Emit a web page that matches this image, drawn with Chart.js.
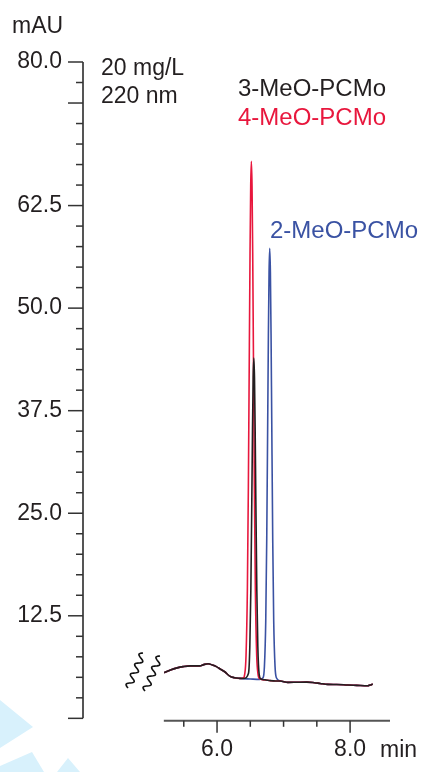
<!DOCTYPE html>
<html>
<head>
<meta charset="utf-8">
<script src="https://cdn.jsdelivr.net/npm/chart.js@4/dist/chart.umd.min.js"></script>
<style>
  html, body { margin: 0; padding: 0; background: #fff; }
  #wrap { width: 425px; height: 772px; }
</style>
</head>
<body>
<div id="wrap"><canvas id="canvas"></canvas></div>
<script>
// shared baseline before the peaks (min, mAU)
const baseTime = [5.205, 5.30, 5.40, 5.49, 5.60, 5.74, 5.80, 5.865, 5.93, 5.99, 6.05, 6.115, 6.19, 6.26, 6.34];
const baseMau  = [5.56, 5.90, 6.15, 6.30, 6.40, 6.40, 6.55, 6.65, 6.50, 6.30, 6.00, 5.68, 5.15, 4.95, 4.87];

// shared baseline after the peaks
const tailTime = [6.95, 7.065, 7.20, 7.35, 7.465, 7.55, 7.664, 7.80, 7.964, 8.10, 8.264, 8.30, 8.34];
const tailMau  = [4.55, 4.38, 4.40, 4.42, 4.34, 4.25, 4.14, 4.12, 4.06, 4.02, 3.97, 4.05, 4.18];

// 3-MeO-PCMo (black)
const peak3Time = [6.40, 6.473, 6.493, 6.508, 6.523, 6.533, 6.543, 6.553, 6.563, 6.573, 6.583, 6.598, 6.613, 6.633, 6.66, 6.72, 6.80, 6.88];
const peak3Mau  = [4.85, 5.5, 8.8, 15.6, 26.8, 35.1, 41.5, 43.9, 41.5, 35.1, 26.8, 15.6, 8.8, 5.4, 4.8, 4.7, 4.6, 4.55];

// 4-MeO-PCMo (red)
const peak4Time = [6.39, 6.416, 6.436, 6.456, 6.471, 6.486, 6.496, 6.506, 6.516, 6.526, 6.536, 6.546, 6.561, 6.576, 6.596, 6.616, 6.64, 6.72, 6.80, 6.88];
const peak4Mau  = [4.9, 5.4, 7.7, 15.7, 28.3, 45.5, 56.8, 64.9, 67.9, 64.9, 56.8, 45.5, 28.3, 15.7, 7.7, 5.4, 4.85, 4.68, 4.6, 4.55];

// 2-MeO-PCMo (blue)
const peak2Time = [6.50, 6.64, 6.692, 6.712, 6.732, 6.747, 6.762, 6.772, 6.782, 6.792, 6.802, 6.812, 6.822, 6.837, 6.852, 6.872, 6.892];
const peak2Mau  = [4.80, 4.75, 4.95, 6.3, 11.8, 21.8, 36.6, 46.8, 54.4, 57.3, 54.4, 46.8, 36.6, 21.8, 11.8, 6.3, 4.95];

// axis ticks
const yLabelTicks = [12.5, 25, 37.5, 50, 62.5, 80];
const yMajorTicks = [0, 12.5, 25, 37.5, 50, 62.5, 75, 80];
const yMinorTicks = [2.5, 5, 7.5, 10, 15, 17.5, 20, 22.5, 27.5, 30, 32.5, 35, 40, 42.5, 45, 47.5,
                     52.5, 55, 57.5, 60, 65, 67.5, 70, 72.5, 77.5];
const xLabelTicks = [6, 8];
const xMinorTicks = [5.5, 6.5, 7, 7.5];
const xAxisStart = 5.2;

const FONT = "'Liberation Sans', Arial, sans-serif";
const BLACK = '#231f20';
const RED = '#e8173d';
const BLUE = '#3a52a3';

function pts(t, v) {
  return t.map(function (x, i) { return { x: x, y: v[i] }; });
}
function series(peakT, peakV) {
  return pts(baseTime, baseMau).concat(pts(peakT, peakV), pts(tailTime, tailMau));
}

// axis lines, tick marks, break marks and text
const decor = {
  id: 'decor',
  beforeDraw: function (chart) {
    const ctx = chart.ctx;
    // faint watermark fragments, bottom left
    ctx.save();
    ctx.fillStyle = '#d8f1fc';
    ctx.beginPath(); ctx.moveTo(0, 700); ctx.lineTo(33, 727); ctx.lineTo(0, 748); ctx.closePath(); ctx.fill();
    ctx.beginPath(); ctx.moveTo(0, 766); ctx.lineTo(32, 752); ctx.lineTo(44, 772); ctx.lineTo(0, 772); ctx.closePath(); ctx.fill();
    ctx.beginPath(); ctx.moveTo(57, 772); ctx.lineTo(68, 758); ctx.lineTo(80, 772); ctx.closePath(); ctx.fill();
    ctx.restore();
  },
  afterDraw: function (chart) {
    const ctx = chart.ctx;
    const xs = chart.scales.x, ys = chart.scales.y;
    const ax = chart.chartArea.left;
    const ay = chart.chartArea.bottom;
    ctx.save();
    // y axis
    ctx.strokeStyle = '#555';
    ctx.lineWidth = 2;
    ctx.beginPath();
    ctx.moveTo(ax, ys.getPixelForValue(0));
    ctx.lineTo(ax, ys.getPixelForValue(80));
    ctx.stroke();
    ctx.strokeStyle = '#333';
    ctx.lineWidth = 1.5;
    yMajorTicks.forEach(function (v) {
      const p = ys.getPixelForValue(v);
      ctx.beginPath(); ctx.moveTo(ax - 15, p); ctx.lineTo(ax, p); ctx.stroke();
    });
    yMinorTicks.forEach(function (v) {
      const p = ys.getPixelForValue(v);
      ctx.beginPath(); ctx.moveTo(ax - 7, p); ctx.lineTo(ax, p); ctx.stroke();
    });
    // x axis
    ctx.strokeStyle = '#555';
    ctx.lineWidth = 2;
    ctx.beginPath();
    ctx.moveTo(xs.getPixelForValue(xAxisStart), ay);
    ctx.lineTo(xs.getPixelForValue(xs.max), ay);
    ctx.stroke();
    ctx.strokeStyle = '#333';
    ctx.lineWidth = 1.5;
    xLabelTicks.forEach(function (v) {
      const p = xs.getPixelForValue(v);
      ctx.beginPath(); ctx.moveTo(p, ay); ctx.lineTo(p, ay + 12); ctx.stroke();
    });
    xMinorTicks.forEach(function (v) {
      const p = xs.getPixelForValue(v);
      ctx.beginPath(); ctx.moveTo(p, ay); ctx.lineTo(p, ay + 6); ctx.stroke();
    });
    // axis break squiggles
    ctx.strokeStyle = '#111';
    ctx.lineWidth = 1.6;
    [[143, 653, 128, 688], [160, 656, 145, 691]].forEach(function (s) {
      const dx = s[2] - s[0], dy = s[3] - s[1];
      const len = Math.sqrt(dx * dx + dy * dy);
      const nx = -dy / len, ny = dx / len;
      ctx.beginPath();
      for (let i = 0; i <= 60; i++) {
        const f = i / 60;
        const w = 3.2 * Math.sin(f * Math.PI * 2 * 3.5);
        const px = s[0] + dx * f + nx * w, py = s[1] + dy * f + ny * w;
        if (i === 0) ctx.moveTo(px, py); else ctx.lineTo(px, py);
      }
      ctx.stroke();
    });
    // texts
    ctx.font = '23px ' + FONT;
    ctx.textBaseline = 'alphabetic';
    ctx.textAlign = 'left';
    ctx.fillStyle = BLACK;
    ctx.fillText('mAU', 12, 33);
    ctx.fillText('20 mg/L', 101, 75);
    ctx.fillText('220 nm', 101, 103);
    ctx.fillText('min', 380, 757);
    ctx.font = '24px ' + FONT;
    ctx.fillText('3-MeO-PCMo', 238, 96);
    ctx.fillStyle = RED;
    ctx.fillText('4-MeO-PCMo', 238, 125);
    ctx.fillStyle = BLUE;
    ctx.fillText('2-MeO-PCMo', 270, 238);
    ctx.restore();
  }
};

const data = {
  datasets: [
    { label: '3-MeO-PCMo', data: series(peak3Time, peak3Mau), borderColor: BLACK },
    { label: '4-MeO-PCMo', data: series(peak4Time, peak4Mau), borderColor: RED },
    { label: '2-MeO-PCMo', data: series(peak2Time, peak2Mau), borderColor: BLUE }
  ]
};

const config = {
  type: 'line',
  data: data,
  options: {
    responsive: true,
    maintainAspectRatio: false,
    animation: false,
    layout: { padding: { top: 62, right: 35, left: 0, bottom: 0 } },
    elements: {
      point: { radius: 0 },
      line: { borderWidth: 1.6, tension: 0, cubicInterpolationMode: 'monotone' }
    },
    plugins: { legend: { display: false }, tooltip: { enabled: false } },
    scales: {
      x: {
        type: 'linear',
        min: 3.985,
        max: 8.6,
        grid: { display: false, drawTicks: false },
        border: { display: false },
        afterBuildTicks: function (scale) {
          scale.ticks = xLabelTicks.map(function (v) { return { value: v }; });
        },
        afterFit: function (scale) { scale.height = 51.2; },
        ticks: {
          padding: 15,
          color: BLACK,
          font: { family: FONT, size: 23 },
          maxRotation: 0,
          callback: function (v) { return Number(v).toFixed(1); }
        }
      },
      y: {
        type: 'linear',
        min: -0.3,
        max: 80,
        grid: { display: false, drawTicks: false },
        border: { display: false },
        afterBuildTicks: function (scale) {
          scale.ticks = yLabelTicks.map(function (v) { return { value: v }; });
        },
        afterFit: function (scale) { scale.width = 83; },
        ticks: {
          padding: 21,
          color: BLACK,
          font: { family: FONT, size: 23 },
          callback: function (v) { return Number(v).toFixed(1); }
        }
      }
    }
  },
  plugins: [decor]
};

const chart = new Chart(document.getElementById('canvas'), config);
</script>
</body>
</html>
